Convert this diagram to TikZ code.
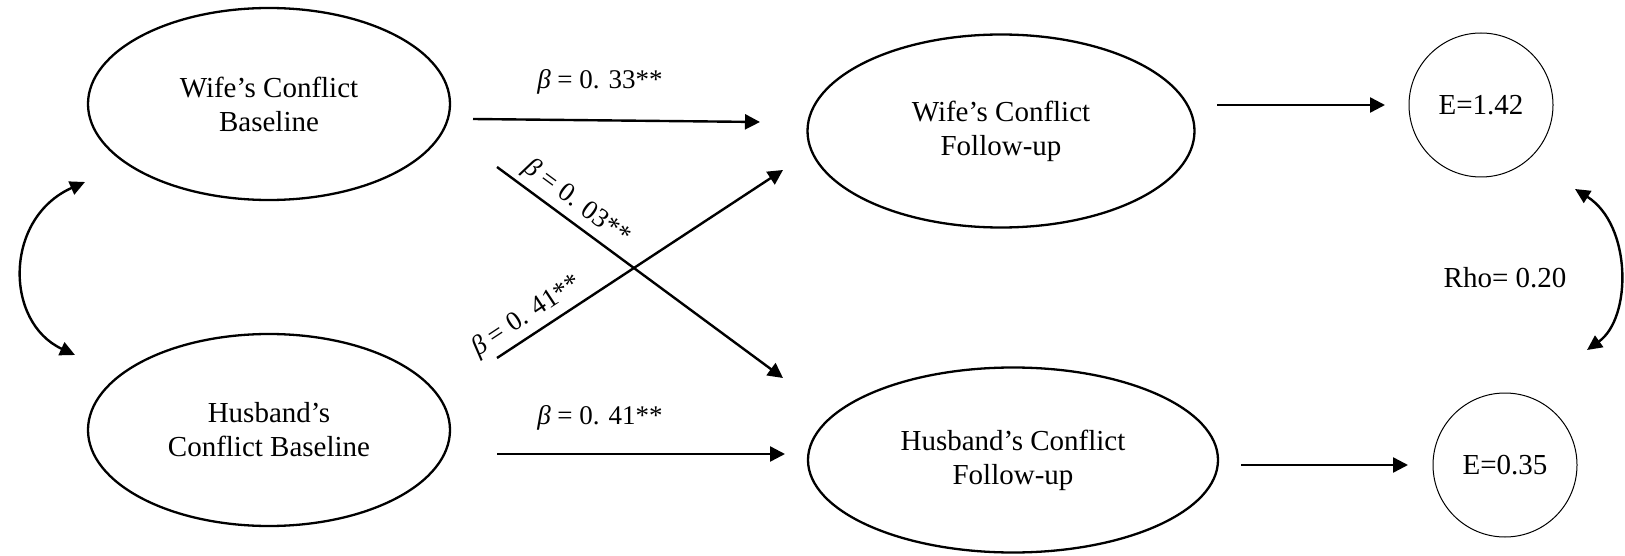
\documentclass[tikz,border=0pt]{standalone}
\usepackage{fontspec}
\setmainfont{Liberation Serif}
\usetikzlibrary{shapes.geometric,arrows.meta}
\begin{document}
\begin{tikzpicture}[x=1pt,y=-1pt,
  lat/.style={ellipse,draw,line width=2.3pt,inner sep=0pt,align=center,font=\fontsize{29}{34}\selectfont},
  err/.style={circle,draw,line width=1pt,minimum size=144pt,inner sep=0pt,font=\fontsize{29}{34}\selectfont},
  pth/.style={line width=2.4pt,-{Triangle[length=15pt,width=15pt]}},
  cov/.style={line width=2.4pt,{Triangle[length=15pt,width=14pt]}-{Triangle[length=15pt,width=14pt]}},
  lbl/.style={font=\fontsize{27}{33}\selectfont,inner sep=3pt},
  slbl/.style={font=\fontsize{27}{33}\selectfont,inner sep=5pt,sloped,above}]
\useasboundingbox (0,0) rectangle (1625,556);
% latent variables
\node[lat,minimum width=362pt,minimum height=192pt] (wb) at (269,104) {Wife’s Conflict\\Baseline};
\node[lat,minimum width=362pt,minimum height=192pt] (hb) at (269,430) {Husband’s\\Conflict Baseline};
\node[lat,minimum width=387pt,minimum height=193pt] (wf) at (1001,131) {Wife’s Conflict\\Follow-up};
\node[lat,minimum width=410pt,minimum height=185pt] (hf) at (1013,460) {Husband’s Conflict\\Follow-up};
% errors
\node[err] (e1) at (1481,105) {E=1.42};
\node[err] (e2) at (1505,465) {E=0.35};
\node[lbl,font=\fontsize{29}{34}\selectfont] (rho) at (1505,278) {Rho= 0.20};
% connector ends
\coordinate (p1s) at (473,119);
\coordinate (p1e) at (760,122);
\coordinate (p2s) at (497,454);
\coordinate (p2e) at (785,454);
\coordinate (d1s) at (497,167);
\coordinate (d1e) at (783,378);
\coordinate (d2s) at (497,358);
\coordinate (d2e) at (783,170);
\coordinate (r1s) at (1217,105);
\coordinate (r1e) at (1385,105);
\coordinate (r2s) at (1241,465);
\coordinate (r2e) at (1408,465);
\coordinate (lc1) at (85,182);
\coordinate (lc2) at (75,355);
\coordinate (rc1) at (1575,189);
\coordinate (rc2) at (1587,350);
% paths
\draw[pth] (p1s) -- (p1e);
\node[lbl] (l1) at (600,82) {{\itshape β} = 0. 33**};
\draw[pth] (p2s) -- (p2e);
\node[lbl] (l2) at (600,418) {{\itshape β} = 0. 41**};
\draw[pth] (d1s) -- node[slbl,pos=0.24] (l3) {{\itshape β} = 0. 03**} (d1e);
\draw[pth] (d2s) -- node[slbl,pos=0.14] (l4) {{\itshape β} = 0. 41**} (d2e);
\draw[pth] (r1s) -- (r1e);
\draw[pth] (r2s) -- (r2e);
% covariances
\draw[cov] (lc1) .. controls (4,218) and (4,322) .. (lc2);
\draw[cov] (rc1) .. controls (1632,225) and (1632,318) .. (rc2);
\end{tikzpicture}
\end{document}
